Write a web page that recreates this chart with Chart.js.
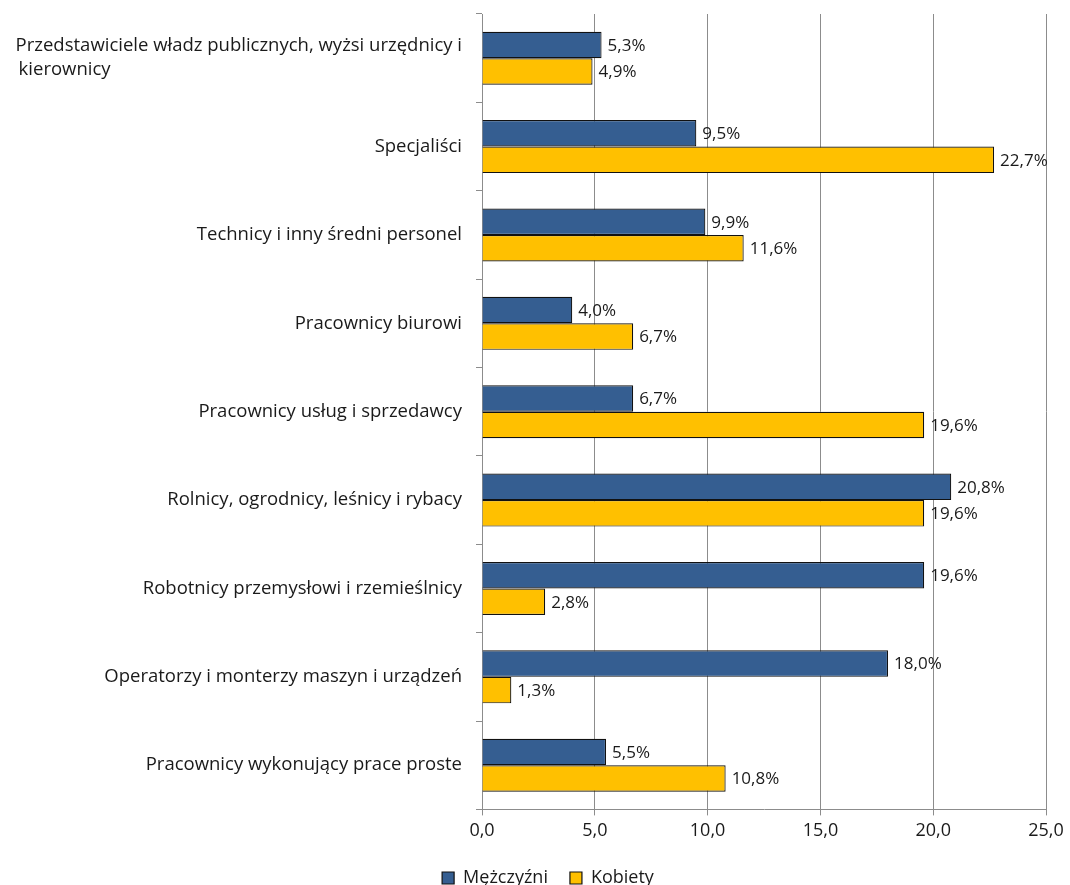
<!DOCTYPE html>
<html>
<head>
<meta charset="utf-8">
<script src="https://cdn.jsdelivr.net/npm/chart.js@4"></script>
<style>
  html, body { margin: 0; padding: 0; background: #ffffff; }
  #wrap { width: 1070px; height: 885px; }
</style>
</head>
<body>
<div id="wrap"><canvas id="c" width="1070" height="885"></canvas></div>
<script>
const categories = [
  ["Przedstawiciele władz publicznych, wyżsi urzędnicy i", "kierownicy"],
  "Specjaliści",
  "Technicy i inny średni personel",
  "Pracownicy biurowi",
  "Pracownicy usług i sprzedawcy",
  "Rolnicy, ogrodnicy, leśnicy i rybacy",
  "Robotnicy przemysłowi i rzemieślnicy",
  "Operatorzy i monterzy maszyn i urządzeń",
  "Pracownicy wykonujący prace proste"
];
const seriesNames = ["Mężczyźni", "Kobiety"];
const men = [5.3, 9.5, 9.9, 4.0, 6.7, 20.8, 19.6, 18.0, 5.5];
const women = [4.9, 22.7, 11.6, 6.7, 19.6, 19.6, 2.8, 1.3, 10.8];
const xTicks = [0, 5, 10, 15, 20, 25];

const FONT = "'Open Sans', 'DejaVu Sans', sans-serif";
const fmt = v => v.toFixed(1).replace('.', ',');

const yLabelsPlugin = {
  id: 'yLabels',
  afterDraw(chart) {
    const ctx = chart.ctx;
    const y = chart.scales.y;
    const right = chart.chartArea.left - 20;
    ctx.save();
    ctx.font = "18.5px " + FONT;
    ctx.fillStyle = '#1a1a1a';
    ctx.textBaseline = 'middle';
    categories.forEach((lab, i) => {
      const cy = y.getPixelForValue(i);
      if (Array.isArray(lab)) {
        const lh = 24;
        const w = Math.max(...lab.map(s => ctx.measureText(s).width));
        ctx.textAlign = 'left';
        const start = cy - (lab.length - 1) * lh / 2;
        lab.forEach((s, k) => ctx.fillText(s, right - w + (k > 0 ? 3 : 0), start + k * lh));
      } else {
        ctx.textAlign = 'right';
        ctx.fillText(lab, right, cy);
      }
    });
    ctx.restore();
  }
};

const valueLabelsPlugin = {
  id: 'valueLabels',
  afterDatasetsDraw(chart) {
    const ctx = chart.ctx;
    ctx.save();
    ctx.font = "17px " + FONT;
    ctx.fillStyle = '#1a1a1a';
    ctx.textAlign = 'left';
    ctx.textBaseline = 'middle';
    chart.data.datasets.forEach((ds, di) => {
      const meta = chart.getDatasetMeta(di);
      meta.data.forEach((bar, i) => {
        ctx.fillText(fmt(ds.data[i]) + '%', bar.x + 6, bar.y + 1);
      });
    });
    ctx.restore();
  }
};

new Chart(document.getElementById('c'), {
  type: 'bar',
  data: {
    labels: categories.map(l => Array.isArray(l) ? l.join(' ') : l),
    datasets: [
      { label: seriesNames[0], data: men, backgroundColor: '#355E91', borderColor: '#111111', borderWidth: 1.2, borderSkipped: 'start' },
      { label: seriesNames[1], data: women, backgroundColor: '#FFC000', borderColor: '#111111', borderWidth: 1.2, borderSkipped: 'start' }
    ]
  },
  options: {
    indexAxis: 'y',
    responsive: false,
    animation: false,
    devicePixelRatio: 1,
    layout: { padding: { top: 14, right: 24, left: 50, bottom: -12 } },
    datasets: { bar: { categoryPercentage: 0.6, barPercentage: 1.0 } },
    scales: {
      x: {
        min: 0, max: 25,
        afterBuildTicks(scale) { scale.ticks = xTicks.map(v => ({ value: v })); },
        ticks: { callback: v => fmt(v), font: { family: FONT, size: 18 }, color: '#1a1a1a', padding: 5 },
        grid: { color: '#8c8c8c', lineWidth: 1, tickLength: 6, drawTicks: true },
        border: { color: '#8c8c8c', width: 1 }
      },
      y: {
        offset: true,
        afterFit(scale) { scale.width = 432; },
        ticks: { display: false },
        grid: { offset: true, drawOnChartArea: false, drawTicks: true, tickLength: 6, color: '#8c8c8c' },
        border: { color: '#8c8c8c', width: 1 }
      }
    },
    plugins: {
      legend: {
        position: 'bottom',
        labels: { boxWidth: 12, boxHeight: 12, padding: 22, font: { family: FONT, size: 18 }, color: '#1a1a1a' }
      },
      tooltip: { enabled: false }
    }
  },
  plugins: [yLabelsPlugin, valueLabelsPlugin]
});
</script>
</body>
</html>
